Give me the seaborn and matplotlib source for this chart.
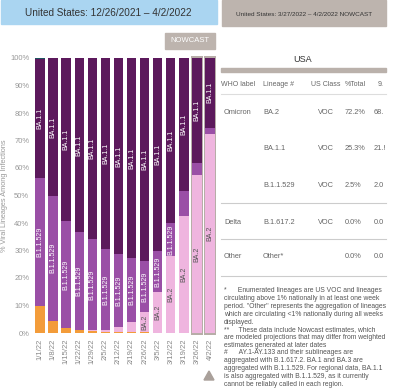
import matplotlib
matplotlib.use('Agg')
import matplotlib.pyplot as plt
import seaborn as sns
import pandas as pd
from matplotlib.patches import Rectangle, Polygon

weeks = ['1/1/22', '1/8/22', '1/15/22', '1/22/22', '1/29/22', '2/5/22', '2/12/22',
         '2/19/22', '2/26/22', '3/5/22', '3/12/22', '3/19/22', '3/26/22', '4/2/22']
delta = [9.8, 4.5, 1.9, 1.0, 0.6, 0.4, 0.3, 0.2, 0.2, 0.1, 0.1, 0.1, 0.0, 0.0]
ba2 = [0.0, 0.0, 0.0, 0.1, 0.4, 0.8, 2.0, 3.8, 7.6, 14.7, 27.8, 42.6, 57.5, 72.2]
b11529 = [46.7, 45.4, 38.8, 35.6, 33.1, 29.2, 26.4, 23.3, 18.3, 15.0, 12.0, 8.9, 4.4, 2.5]
ba11 = [43.0, 50.0, 59.3, 63.3, 65.9, 69.6, 71.3, 72.7, 73.9, 70.2, 60.1, 48.4, 38.1, 25.3]
other = [0.5, 0.1, 0.0, 0.0, 0.0, 0.0, 0.0, 0.0, 0.0, 0.0, 0.0, 0.0, 0.0, 0.0]
nowcast = ['3/26/22', '4/2/22']

# table values
who_label = ['Omicron', '', '', 'Delta', 'Other']
lineage = ['BA.2', 'BA.1.1', 'B.1.1.529', 'B.1.617.2', 'Other*']
us_class = ['VOC', 'VOC', 'VOC', 'VOC', '']
pct_total = ['72.2%', '25.3%', '2.5%', '0.0%', '0.0%']
ci_low = ['68.', '21.!', '2.0', '0.0', '0.0']

colors = {'Delta': '#f39c3a', 'BA.2': '#efb5df', 'B.1.1.529': '#9a4fa6',
          'BA.1.1': '#5c195c', 'Other': '#1e5560'}

df = pd.DataFrame({'week': weeks, 'Delta': delta, 'BA.2': ba2, 'B.1.1.529': b11529,
                   'BA.1.1': ba11, 'Other': other})
layers = ['Delta', 'BA.2', 'B.1.1.529', 'BA.1.1', 'Other']
cum = df[layers].cumsum(axis=1)

plt.rcParams['font.family'] = ['Liberation Sans', 'DejaVu Sans']
fig = plt.figure(figsize=(4.0, 3.88), dpi=100)
ax = fig.add_axes([33.5 / 400, 55 / 388, 183 / 400, 275 / 388])

# gray frames behind nowcast weeks
for i, w in enumerate(weeks):
    if w in nowcast:
        ax.bar(i, cum['Other'][i] + 1.6, bottom=-0.8, width=0.9, color='#b7ada8',
               clip_on=False, zorder=0)

# stacked bars: draw cumulative totals from the top layer down
for name in layers[::-1]:
    sns.barplot(x=df['week'], y=cum[name], color=colors[name], width=0.72,
                saturation=1, ax=ax, zorder=2)

# segment labels
for i in range(len(weeks)):
    mid = cum['BA.1.1'][i] - ba11[i] / 2
    ax.text(i, mid, 'BA.1.1', rotation=90, ha='center', va='center',
            color='white', fontsize=5, zorder=5)
    if b11529[i] >= 11:
        mid = cum['B.1.1.529'][i] - b11529[i] / 2
        ax.text(i, mid, 'B.1.1.529', rotation=90, ha='center', va='center',
                color='white', fontsize=5, zorder=5)
    if ba2[i] >= 7:
        mid = cum['BA.2'][i] - ba2[i] / 2
        ax.text(i, mid, 'BA.2', rotation=90, ha='center', va='center',
                color='#555555', fontsize=5, zorder=5)

ax.set_xlim(-0.5, len(weeks) - 0.5)
ax.set_ylim(0, 100)
ax.set_yticks(range(0, 101, 10))
ax.set_yticklabels([f'{v}%' for v in range(0, 101, 10)])
ax.set_xticks(range(len(weeks)))
ax.set_xticklabels(weeks, rotation=90)
ax.tick_params(axis='y', length=0, pad=3, labelsize=5.5, labelcolor='#999999')
ax.tick_params(axis='x', length=0, pad=4, labelsize=5.5, labelcolor='#888888')
ax.set_xlabel('')
ax.set_ylabel('% Viral Lineages Among Infections', fontsize=5.3, color='#999999', labelpad=1.5)
for s in ax.spines.values():
    s.set_visible(False)


def fx(px):
    return px / 400


def fy(py):
    return 1 - py / 388


# header boxes
fig.add_artist(Rectangle((fx(1), fy(24)), 216 / 400, 24 / 388, color='#aad5f1',
                         transform=fig.transFigure))
fig.text(fx(108), fy(12.5), 'United States: 12/26/2021 \u2013 4/2/2022', ha='center',
         va='center', fontsize=7.2, color='#333333')
fig.add_artist(Rectangle((fx(222), fy(26)), 164 / 400, 26 / 388, color='#bdb4ae',
                         transform=fig.transFigure))
fig.text(fx(304), fy(14), 'United States: 3/27/2022 \u2013 4/2/2022 NOWCAST', ha='center',
         va='center', fontsize=4.6, color='#333333')
fig.add_artist(Rectangle((fx(165), fy(49)), 50 / 400, 16 / 388, color='#bdb4ae',
                         transform=fig.transFigure))
fig.text(fx(190), fy(41), 'NOWCAST', ha='center', va='center', fontsize=5.5, color='white')
fig.add_artist(Polygon([[fx(204), fy(380)], [fx(214), fy(380)], [fx(209), fy(371)]],
                       closed=True, color='#a9a09a', transform=fig.transFigure))

# table
tcol = '#666666'
fig.text(fx(303), fy(59), 'USA', ha='center', va='center', fontsize=6.5, color='#333333')
fig.add_artist(Rectangle((fx(221), fy(72)), 165 / 400, 4 / 388, color='#bab1ab',
                         transform=fig.transFigure))
hy = fy(85)
fig.text(fx(221), hy, 'WHO label', va='center', fontsize=5, color=tcol)
fig.text(fx(263), hy, 'Lineage #', va='center', fontsize=5, color=tcol)
fig.text(fx(311), hy, 'US Class', va='center', fontsize=5, color=tcol)
fig.text(fx(345), hy, '%Total', va='center', fontsize=5, color=tcol)
fig.text(fx(378), hy, '9.', va='center', fontsize=5, color=tcol)
row_y = [112, 149, 185, 222, 257]
for i, y in enumerate(row_y):
    fig.text(fx(224), fy(y), who_label[i], va='center', fontsize=5.3, color=tcol)
    fig.text(fx(263), fy(y), lineage[i], va='center', fontsize=5.3, color=tcol)
    fig.text(fx(334), fy(y), us_class[i], va='center', ha='right', fontsize=5.3, color=tcol)
    fig.text(fx(345), fy(y), pct_total[i], va='center', fontsize=5.3, color=tcol)
    fig.text(fx(374), fy(y), ci_low[i], va='center', fontsize=5.3, color=tcol)
for y, c in [(94, '#dddddd'), (203, '#cccccc'), (239, '#cccccc'), (276, '#cccccc')]:
    fig.add_artist(plt.Line2D([fx(221), fx(386)], [fy(y), fy(y)], color=c, lw=0.8,
                              transform=fig.transFigure))

notes = [
    '*      Enumerated lineages are US VOC and lineages',
    'circulating above 1% nationally in at least one week',
    'period. "Other" represents the aggregation of lineages',
    'which are circulating <1% nationally during all weeks',
    'displayed.',
    '**     These data include Nowcast estimates, which',
    'are modeled projections that may differ from weighted',
    'estimates generated at later dates',
    '#      AY.1-AY.133 and their sublineages are',
    'aggregated with B.1.617.2. BA.1 and BA.3 are',
    'aggregated with B.1.1.529. For regional data, BA.1.1',
    'is also aggregated with B.1.1.529, as it currently',
    'cannot be reliably called in each region.',
]
for k, line in enumerate(notes):
    fig.text(fx(224), fy(291 + k * 7.75), line, va='center', fontsize=4.9, color='#555555')

fig.savefig('out.png', dpi=100)
